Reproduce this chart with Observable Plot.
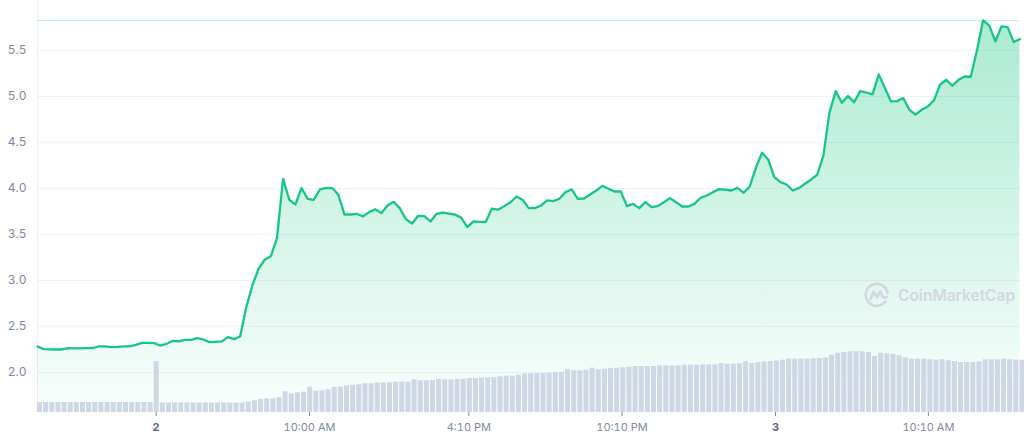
<!DOCTYPE html>
<html><head><meta charset="utf-8">
<script src="https://cdn.jsdelivr.net/npm/d3@7"></script>
<script src="https://cdn.jsdelivr.net/npm/@observablehq/plot@0.6"></script>
<style>
html,body{margin:0;padding:0;background:#fff;}
#wrap{position:relative;width:1024px;height:441px;overflow:hidden;font-family:Inter,"Noto Sans",sans-serif;}
#wrap svg.layer{position:absolute;left:0;top:0;}
#wm{position:absolute;left:864px;top:282px;display:flex;align-items:center;gap:8px;color:#d3d7e1;font-family:Inter,sans-serif;font-weight:600;font-size:15.5px;letter-spacing:0px;}
</style></head>
<body><div id="wrap"></div>
<script>
// price (USD) per time step
const price = [
 2.283, 2.254, 2.252, 2.25, 2.25, 2.264, 2.262, 2.262, 2.264, 2.266,
 2.283, 2.283, 2.275, 2.278, 2.283, 2.283, 2.30, 2.322, 2.322, 2.319,
 2.293, 2.31, 2.344, 2.337, 2.355, 2.355, 2.373, 2.359, 2.33, 2.333,
 2.337, 2.384, 2.362, 2.391, 2.71, 2.946, 3.127, 3.225, 3.264, 3.46,
 4.105, 3.877, 3.826, 4.004, 3.888, 3.877, 3.989, 4.007, 4.004, 3.931,
 3.717, 3.717, 3.725, 3.696, 3.743, 3.775, 3.732, 3.815, 3.855, 3.786,
 3.665, 3.62, 3.703, 3.70, 3.641, 3.725, 3.737, 3.727, 3.717, 3.683,
 3.58, 3.643, 3.636, 3.636, 3.782, 3.77, 3.808, 3.848, 3.913, 3.877,
 3.786, 3.786, 3.815, 3.87, 3.862, 3.888, 3.96, 3.989, 3.888, 3.891,
 3.935, 3.978, 4.029, 3.996, 3.967, 3.967, 3.808, 3.833, 3.786, 3.851,
 3.797, 3.808, 3.851, 3.895, 3.851, 3.804, 3.804, 3.833, 3.899, 3.924,
 3.96, 3.993, 3.986, 3.978, 4.007, 3.953, 4.022, 4.225, 4.388, 4.315,
 4.123, 4.069, 4.043, 3.978, 4.004, 4.051, 4.098, 4.149, 4.359, 4.83,
 5.058, 4.931, 5.004, 4.938, 5.058, 5.043, 5.022, 5.239, 5.094, 4.946,
 4.949, 4.982, 4.855, 4.804, 4.855, 4.891, 4.957, 5.13, 5.181, 5.116,
 5.181, 5.217, 5.214, 5.5, 5.826, 5.772, 5.598, 5.761, 5.754, 5.591,
 5.623
];
// volume per time step (relative units)
const volume = [
 10, 10, 10, 10, 10, 10, 10, 10, 10, 10,
 10, 10, 10, 10, 10, 10, 10, 10, 10, 51,
 9.5, 9.5, 9.5, 9.5, 9.5, 9.5, 9.5, 9.5, 9.5, 9.5,
 9.5, 9.5, 9.5, 9.5, 10.5, 11.7, 13, 13.7, 13.7, 14.8,
 20.8, 18.7, 19.7, 20.3, 25.2, 21.5, 21.7, 22.8, 25, 25.5,
 26.7, 27.2, 27.8, 28.7, 28.7, 29.7, 29.7, 29.7, 30.3, 30.3,
 30.3, 32.7, 31.7, 31.7, 32, 33.3, 32.7, 32.7, 33, 33.3,
 34, 34, 34.3, 34.5, 35, 35.7, 36.3, 36.3, 37.3, 38.7,
 38.7, 39, 39, 39.3, 40, 40, 42.7, 41.7, 41.7, 42.3,
 44.3, 42.7, 43.3, 44, 44.3, 44.7, 45.3, 46, 46, 46,
 46, 46.7, 46.7, 46.7, 46.7, 47.3, 47.3, 47.3, 47.7, 47.7,
 47.7, 49, 48.3, 48.3, 48.7, 51, 49, 50, 50.5, 51,
 51.5, 52.3, 53.3, 53.3, 53.3, 53.3, 53.7, 54, 54.7, 57.3,
 59.3, 60, 60.7, 60.7, 60.7, 60, 56, 59.3, 58.7, 58,
 56.7, 54.7, 53.3, 53.3, 53.3, 52.7, 52.3, 52.7, 51.7, 51,
 50, 50, 50, 50.7, 52.7, 52.7, 52.7, 53.3, 52.7, 52.3,
 52.3
];
// x-axis ticks (position in time-step index) and their labels
const xTickIndex = [19.33, 44.3, 70.25, 95.2, 120.2, 145.1];
const xTickLabels = ["2", "10:00 AM", "4:10 PM", "10:10 PM", "3", "10:10 AM"];
const dayLabels = ["2", "3"];
// y-axis ticks
const yTicks = [2.0, 2.5, 3.0, 3.5, 4.0, 4.5, 5.0, 5.5];

const data = price.map((p, i) => ({i, price: p, volume: volume[i]}));
const W = 1024, H = 441;
const M = {marginLeft: 37, marginRight: 4.6, marginTop: 0, marginBottom: 29};
const yDomain = [1.565, 6.043];
const xDomain = [0, price.length - 1];

const defs = () => {
  const g = d3.create("svg:defs");
  const lg = g.append("linearGradient").attr("id", "areaGrad")
    .attr("x1", 0).attr("x2", 0).attr("y1", 0).attr("y2", 1);
  lg.append("stop").attr("offset", "0%").attr("stop-color", "#16c784").attr("stop-opacity", 0.36);
  lg.append("stop").attr("offset", "100%").attr("stop-color", "#16c784").attr("stop-opacity", 0.02);
  return g.node();
};

const pricePlot = Plot.plot({
  width: W, height: H, ...M,
  style: {background: "transparent", fontFamily: "Inter, sans-serif", fontSize: "11.5px", color: "#808a9d"},
  x: {domain: xDomain, ticks: xTickIndex, tickFormat: d => xTickLabels[xTickIndex.indexOf(d)],
      tickSize: 4, tickPadding: 7, label: null},
  y: {domain: yDomain, ticks: yTicks, tickFormat: d3.format(".1f"), tickSize: 0, tickPadding: 11, label: null},
  marks: [
    defs,
    Plot.ruleY(yTicks, {stroke: "#eff2f5", strokeWidth: 1}),
    Plot.ruleX([xDomain[0]], {stroke: "#eceff3"}),
    Plot.areaY(data, {x: "i", y1: yDomain[0], y2: "price", fill: "url(#areaGrad)"}),
    Plot.ruleY([d3.max(price)], {stroke: "#c3eedb", strokeWidth: 1}),
    Plot.lineY(data, {x: "i", y: "price", stroke: "#16c784", strokeWidth: 2.3, strokeLinejoin: "round"})
  ]
});
pricePlot.classList.add("layer");

const volPlot = Plot.plot({
  width: W, height: H, ...M,
  style: {background: "transparent"},
  x: {domain: xDomain, axis: null},
  y: {domain: [0, 412], axis: null},
  marks: [
    Plot.rect(data, {x1: "i", x2: d => d.i + 0.82, y1: 0, y2: "volume", fill: "#cfd6e4"})
  ]
});
volPlot.classList.add("layer");

const wrap = document.getElementById("wrap");
wrap.appendChild(pricePlot);
wrap.appendChild(volPlot);

// style day labels bold
d3.select(pricePlot).selectAll("text").each(function() {
  const t = this.textContent.trim();
  if (dayLabels.includes(t)) d3.select(this).attr("font-weight", 700).attr("fill", "#58667e");
});
d3.select(pricePlot).selectAll("text").attr("font-size", function() {
  return /\.\d$/.test(this.textContent.trim()) ? "12px" : "11px";
});

// watermark
const wm = document.createElement("div");
wm.id = "wm";
wm.innerHTML = '<svg width="26" height="26" viewBox="0 0 26 26"><path d="M21.5 19.5 A11 11 0 1 1 23.6 11" fill="none" stroke="#d3d7e1" stroke-width="2.6" stroke-linecap="round"/><path d="M6.5 17 L9.8 9.5 L13 15.5 L16.2 9.5 L18.5 14.5 Q19.8 16.8 22.5 14.8" fill="none" stroke="#d3d7e1" stroke-width="2.6" stroke-linecap="round" stroke-linejoin="round"/></svg><span>CoinMarketCap</span>';
wrap.appendChild(wm);
</script>
</body></html>
